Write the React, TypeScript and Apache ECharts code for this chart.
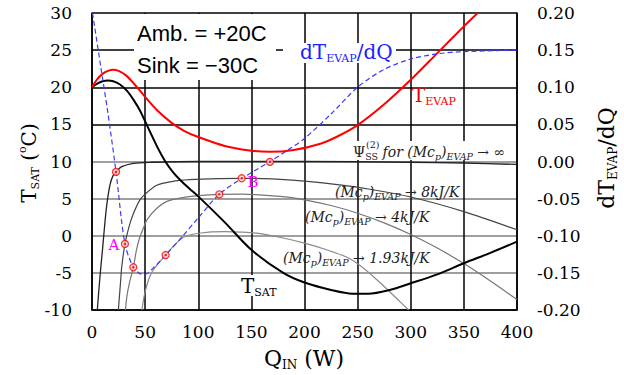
import React, { useEffect, useRef } from "react";
import * as echarts from "echarts";

// ---------- data (Q in W, T in °C, slope in K/W) ----------
const xTicks = { min: 0, max: 400, interval: 50 };
const leftTicks = { min: -10, max: 30, interval: 5 };
const rightTicks = { min: -0.2, max: 0.2, interval: 0.05 };

const tEvap: number[][] = [
  [0, 20], [5, 21.1], [10, 21.8], [15, 22.2], [20, 22.35], [25, 22.2], [32, 21.6],
  [40, 20.4], [50, 18.7], [62, 16.8], [75, 15.2], [87, 14.1], [100, 13.3], [125, 12.1],
  [150, 11.45], [167, 11.3], [190, 11.55], [215, 12.4], [230, 13.3], [250, 14.9],
  [275, 17.7], [300, 21], [325, 24.6], [350, 28.2], [363, 30],
];

const tSat: number[][] = [
  [0, 20], [5, 20.5], [10, 20.8], [15, 20.9], [20, 20.8], [26, 20.4], [33, 19.5],
  [40, 18.1], [45, 16.9], [52, 14.8], [62, 11.8], [69, 10], [76, 8.6], [83, 7.5],
  [92, 6.3], [100, 5.3], [125, 1.8], [150, -1.9], [180, -5], [200, -6.3], [225, -7.3],
  [245, -7.8], [260, -7.8], [280, -7.3], [300, -6.4], [325, -5.2], [350, -3.7],
  [375, -2.3], [400, -0.8],
];

const psiInf: number[][] = [
  [5, -10], [7.5, -5.5], [10, -1.7], [12.5, 2.3], [14.5, 4.8], [17, 6.9], [19.5, 8.0],
  [22.6, 8.6], [28, 9.3], [39, 9.76], [56, 9.9], [100, 10], [200, 10], [300, 9.9],
  [350, 9.8], [400, 9.6],
];

const psi8: number[][] = [
  [24.8, -10], [27, -6], [28, -4.2], [31, -1.1], [35, 1.3], [39, 3], [45, 4.8],
  [50, 5.6], [61, 6.8], [75, 7.3], [92, 7.55], [120, 7.7], [141, 7.74], [160, 7.7],
  [177, 7.6], [200, 7.35], [227, 6.95], [260, 6.3], [299, 5.25], [350, 3.25], [400, 0.8],
];

const psi4: number[][] = [
  [31.5, -10], [33, -8], [35, -6.5], [38.9, -4.25], [42, -1.8], [45, -0.2], [48.3, 1.0],
  [52, 2.2], [61, 3.7], [70, 4.6], [80, 5.0], [100, 5.4], [119.8, 5.58], [140, 5.6],
  [177, 5.3], [200, 4.84], [225, 4.07], [250, 3.03], [275, 1.74], [300, 0.17],
  [325, -1.66], [350, -3.75], [375, -6.1], [400, -8.6],
];

const psi193: number[][] = [
  [47, -10], [49, -8.2], [52, -6.5], [56, -5], [62, -3.8], [69.3, -2.6], [78, -1.2],
  [86, -0.2], [95, 0.2], [110, 0.5], [125, 0.55], [140, 0.5], [155, 0.35], [180, -0.3],
  [200, -1.0], [220, -1.85], [240, -2.9], [255, -4.3], [271, -6.3], [290, -8.9], [298, -10],
];

const slope: number[][] = [
  [0.5, 0.2], [8, 0.13], [15, 0.065], [22.6, -0.014], [31, -0.111], [38.9, -0.1425],
  [45, -0.151], [50, -0.152], [58, -0.143], [69.3, -0.126], [85, -0.101], [100, -0.076],
  [119.8, -0.044], [140.9, -0.023], [167.5, 0.0], [185, 0.016], [200, 0.031],
  [225, 0.064], [250, 0.1], [275, 0.124], [300, 0.138], [325, 0.145], [350, 0.148],
  [400, 0.15],
];

const crossPoints: number[][] = [
  [22.6, 8.6], [31, -1.1], [38.9, -4.25], [69.3, -2.6], [119.8, 5.58], [140.9, 7.74], [167.5, 9.95],
];

const SERIF = "'DejaVu Serif', serif";
const SANS = "'Liberation Sans', Arial, sans-serif";

function subText(
  x: number, y: number, text: string, fill: string, main: number, sub: number,
  extra: Record<string, any> = {}, italic = false
) {
  const fs = italic ? "italic" : "normal";
  return {
    type: "text",
    x, y, z: 100,
    ...extra,
    style: {
      text,
      fill,
      fontFamily: SERIF,
      fontSize: main,
      fontStyle: fs,
      verticalAlign: "middle",
      align: extra.align || "left",
      rich: {
        m: { fontFamily: SERIF, fontSize: main, lineHeight: main + 4, fill, fontStyle: fs, verticalAlign: "middle" },
        n: { fontFamily: SERIF, fontSize: main, lineHeight: main + 4, fill, fontStyle: "normal", verticalAlign: "middle" },
        s: { fontFamily: SERIF, fontSize: sub, lineHeight: sub, fill, fontStyle: fs, verticalAlign: "bottom" },
        u: { fontFamily: SERIF, fontSize: sub, lineHeight: sub, fill, fontStyle: "normal", verticalAlign: "bottom" },
        t: { fontFamily: SERIF, fontSize: sub, lineHeight: sub, fill, fontStyle: "normal", verticalAlign: "top" },
      },
    },
  };
}

export default function App() {
  const ref = useRef<HTMLDivElement>(null);
  useEffect(() => {
    if (!ref.current) return;
    const chart = echarts.init(ref.current, undefined, { renderer: "svg" });
    const curve = (data: number[][], color: string, width: number, yAxisIndex = 0, z = 3, type: any = "solid") => ({
      type: "line",
      data,
      yAxisIndex,
      showSymbol: false,
      smooth: 0.3,
      lineStyle: { color, width, type },
      z,
    });
    chart.setOption({
      animation: false,
      grid: { left: 92, right: 107, top: 13, bottom: 65 },
      xAxis: {
        type: "value",
        min: xTicks.min,
        max: xTicks.max,
        interval: xTicks.interval,
        axisLine: { show: true, onZero: false, lineStyle: { color: "#000", width: 1.5 } },
        axisTick: { show: false },
        axisLabel: { color: "#000", fontFamily: SERIF, fontSize: 17, margin: 13 },
        splitLine: { show: true, lineStyle: { color: "#000", width: 1.5 } },
      },
      yAxis: [
        {
          type: "value",
          min: leftTicks.min,
          max: leftTicks.max,
          interval: leftTicks.interval,
          axisLine: { show: true, onZero: false, lineStyle: { color: "#000", width: 1.5 } },
          axisTick: { show: false },
          axisLabel: { color: "#000", fontFamily: SERIF, fontSize: 17, margin: 20 },
          splitLine: {
            show: true,
            lineStyle: {
              color: ["#000", "#7f7f7f", "#7f7f7f", "#7f7f7f", "#7f7f7f", "#000", "#000", "#000", "#000"],
              width: 1.6,
            },
          },
        },
        {
          type: "value",
          min: rightTicks.min,
          max: rightTicks.max,
          interval: rightTicks.interval,
          position: "right",
          axisLine: { show: true, onZero: false, lineStyle: { color: "#000", width: 1.5 } },
          axisTick: { show: false },
          axisLabel: {
            color: "#000", fontFamily: SERIF, fontSize: 17, margin: 20,
            formatter: (v: number) => v.toFixed(2),
          },
          splitLine: { show: false },
        },
      ],
      series: [
        curve(psiInf, "#222", 1.3),
        curve(psi8, "#444", 1.2),
        curve(psi4, "#777", 1.2),
        curve(psi193, "#8a8a8a", 1.2),
        curve(tSat, "#000", 2, 0, 4),
        curve(tEvap, "#ff0000", 2, 0, 4),
        curve(slope, "#3a3aff", 1.2, 1, 5, [5, 3]),
        {
          type: "scatter", data: crossPoints, yAxisIndex: 0, symbol: "circle", symbolSize: 7,
          itemStyle: { color: "#ffd6d6", borderColor: "#ff0000", borderWidth: 1.3 }, z: 6,
        },
        {
          type: "scatter", data: crossPoints, yAxisIndex: 0, symbol: "circle", symbolSize: 2.5,
          itemStyle: { color: "#e00000" }, z: 7,
        },
      ],
      graphic: [
        { type: "rect", shape: { x: 134, y: 14, width: 142, height: 66 }, style: { fill: "#fff" }, z: 90 },
        { type: "text", x: 137, y: 33, z: 100, style: { text: "Amb. = +20C", fill: "#000", font: `22px ${SANS}`, verticalAlign: "middle" } },
        { type: "text", x: 137, y: 65, z: 100, style: { text: "Sink = \u221230C", fill: "#000", font: `22px ${SANS}`, verticalAlign: "middle" } },
        { type: "rect", shape: { x: 283, y: 43, width: 113, height: 20 }, style: { fill: "#fff" }, z: 90 },
        subText(300, 52, "{m|dT}{s|EVAP}{m|/dQ}", "#2020ff", 20, 11),
        subText(412, 95, "{m|T}{s|EVAP}", "#ee0000", 20, 11),
        { type: "rect", shape: { x: 350, y: 141, width: 162, height: 19 }, style: { fill: "#fff" }, z: 90 },
        subText(353, 152, "{n|\u03A8}{u|SS} {m|for (Mc}{s|p}{m|)}{s|EVAP}{m| \u2192 \u221E}", "#222", 14, 9.5, {}, true),
        { type: "text", x: 366, y: 144, z: 100, style: { text: "(2)", fill: "#222", font: `9.5px ${SERIF}`, verticalAlign: "middle" } },
        subText(335, 192, "{m|(Mc}{s|p}{m|)}{s|EVAP}{m| \u2192 8kJ/K}", "#222", 14, 9.5, {}, true),
        subText(305, 217, "{m|(Mc}{s|p}{m|)}{s|EVAP}{m| \u2192 4kJ/K}", "#222", 14, 9.5, {}, true),
        subText(283, 258, "{m|(Mc}{s|p}{m|)}{s|EVAP}{m| \u2192 1.93kJ/K}", "#222", 14, 9.5, {}, true),
        { type: "rect", shape: { x: 238, y: 275, width: 44, height: 21 }, style: { fill: "#fff" }, z: 90 },
        subText(241, 286, "{m|T}{s|SAT}", "#000", 20, 11),
        { type: "text", x: 114, y: 245, z: 100, style: { text: "A", fill: "#ff00ff", font: `15px ${SERIF}`, align: "center", verticalAlign: "middle" } },
        { type: "text", x: 253, y: 182, z: 100, style: { text: "B", fill: "#ff00ff", font: `15px ${SERIF}`, align: "center", verticalAlign: "middle" } },
        // axis titles
        subText(29, 163, "{m|T}{s|SAT}{m| (}{t|o}{m|C)}", "#000", 20, 11, { rotation: Math.PI / 2, align: "center" }),
        subText(606, 158, "{m|dT}{s|EVAP}{m|/dQ}", "#000", 22, 12, { rotation: Math.PI / 2, align: "center" }),
        subText(304, 358, "{m|Q}{s|IN}{m| (W)}", "#000", 22, 12, { align: "center" }),
      ],
    });
    return () => chart.dispose();
  }, []);
  return (
    <div
      ref={ref}
      style={{ position: "fixed", left: 0, top: 0, width: 624, height: 375, background: "#fff" }}
    />
  );
}
